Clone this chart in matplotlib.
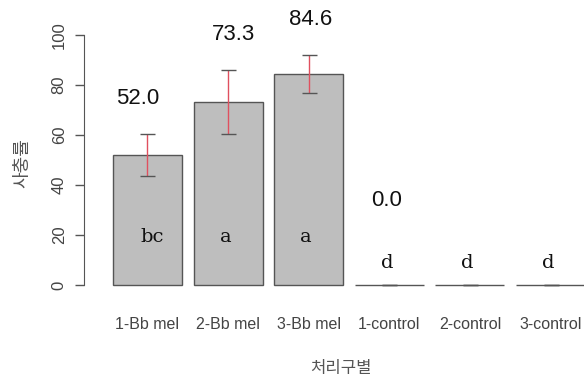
import matplotlib
matplotlib.use("Agg")
import matplotlib.pyplot as plt
import numpy as np

# Mortality by treatment
categories = ["1-Bb mel", "2-Bb mel", "3-Bb mel", "1-control", "2-control", "3-control"]
means = [52.0, 73.3, 84.6, 0.0, 0.0, 0.0]
errors = [8.5, 12.9, 7.6, 0.0, 0.0, 0.0]
value_labels = ["52.0", "73.3", "84.6", "0.0", "", ""]
groups = ["bc", "a", "a", "d", "d", "d"]
yticks = [0, 20, 40, 60, 80, 100]

W, H = 584, 385
fig = plt.figure(figsize=(W / 100, H / 100), dpi=100)

# axes placed in pixel terms: 0 at y=285, 110 at y=10
left_px, right_px = 99, 599
bottom_px, top_px = 285, 10
ax = fig.add_axes([left_px / W, (H - bottom_px) / H,
                   (right_px - left_px) / W, (bottom_px - top_px) / H])
ax.set_xlim(-0.6, 5.6)
ax.set_ylim(0, 110)

x = np.arange(len(categories))
rects = ax.bar(x, means, width=0.855, color="#bebebe", edgecolor="#555555",
               linewidth=1.0, zorder=2)
for r in rects:
    r.set_clip_on(False)

_, caps, bars = ax.errorbar(x, means, yerr=errors, fmt="none", ecolor="#e0505f",
                            elinewidth=1.0, capsize=5.4, capthick=1.0, zorder=3)
for c in caps:
    c.set_color("#555555")
    c.set_markeredgecolor("#555555")
    c.set_markerfacecolor("#555555")
    c.set_clip_on(False)
for b in bars:
    b.set_clip_on(False)

# numeric labels above the bars
label_y = [m + e + 14 if m > 0 else 34 for m, e in zip(means, errors)]
label_dx = [-0.12, 0.07, 0.02, -0.03, 0, 0]
for xi, yi, dx, t in zip(x, label_y, label_dx, value_labels):
    if t:
        ax.text(xi + dx, yi, t, ha="center", va="center", fontsize=16,
                family="Liberation Sans", color="#111111", zorder=4, clip_on=False)

# significance letters
for xi, m, g in zip(x, means, groups):
    ax.text(xi + (0.06 if g == "bc" else -0.03), 19 if m > 0 else 9, g,
            ha="center", va="center", fontsize=14, family="DejaVu Serif",
            color="#111111", zorder=4)

# axes styling
for s in ["top", "right", "bottom"]:
    ax.spines[s].set_visible(False)
ax.spines["left"].set_position(("outward", 10.8))
ax.spines["left"].set_bounds(0, 100)
ax.spines["left"].set_color("#555555")
ax.set_yticks(yticks)
ax.set_yticklabels([str(v) for v in yticks], rotation=90, va="center",
                   family="Liberation Sans", fontsize=12, color="#444444")
ax.tick_params(axis="y", length=6.5, width=1.0, color="#555555", pad=6)
ax.set_xticks(x)
ax.set_xticklabels(categories, family="Liberation Sans", fontsize=11.5, color="#444444")
ax.tick_params(axis="x", length=0, pad=23)

fig.text(341 / W, 1 - 369 / H, "처리구별", ha="center", va="center",
         family=["Noto Sans CJK KR", "DejaVu Sans"], fontsize=12, color="#555555")
fig.text(22 / W, 1 - 163 / H, "사충률", ha="center", va="center", rotation=90,
         family=["Noto Sans CJK KR", "DejaVu Sans"], fontsize=13, color="#555555")

fig.savefig("out.png", dpi=100)
